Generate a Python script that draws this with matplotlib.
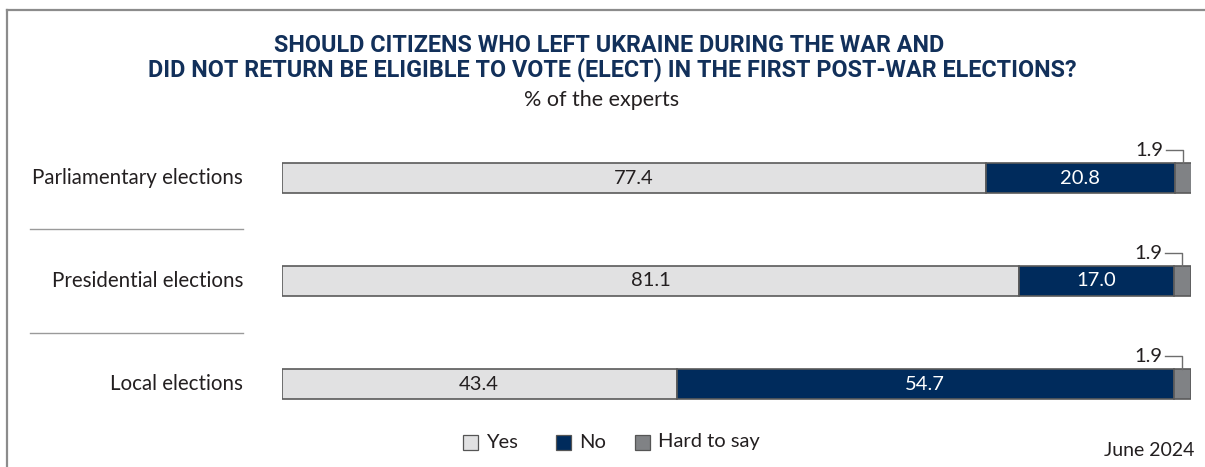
import matplotlib.pyplot as plt
from matplotlib.lines import Line2D
from matplotlib.patches import Rectangle

# survey shares, % of the experts
categories = ["Parliamentary elections", "Presidential elections", "Local elections"]
yes_vals = [77.4, 81.1, 43.4]
no_vals = [20.8, 17.0, 54.7]
hard_vals = [1.9, 1.9, 1.9]
legend_labels = ["Yes", "No", "Hard to say"]

NAVY = "#002b5c"
LIGHT = "#e1e1e2"
GREY = "#808285"
EDGE = "#5a5a5a"
TEXT = "#231f20"

W, H = 1205, 467
fig = plt.figure(figsize=(W / 100, H / 100), dpi=100)
fig.patch.set_facecolor("white")

FONT = ["Lato", "DejaVu Sans"]
TITLE_FONT = ["Roboto", "DejaVu Sans"]


def fx(px):
    return px / W


def fy(py):
    return 1 - py / H


# frame lines along top and left
fig.add_artist(Line2D([fx(7), fx(1205)], [fy(9.5), fy(9.5)], color="#8c8c8c", lw=1.6))
fig.add_artist(Line2D([fx(7.5), fx(7.5)], [fy(9.5), fy(467)], color="#8c8c8c", lw=1.6))

# title block
fig.text(fx(609), fy(46), "SHOULD CITIZENS WHO LEFT UKRAINE DURING THE WAR AND",
         ha="center", va="center", fontsize=16.8, fontweight="bold", color="#12305a",
         family=TITLE_FONT)
fig.text(fx(612), fy(70), "DID NOT RETURN BE ELIGIBLE TO VOTE (ELECT) IN THE FIRST POST-WAR ELECTIONS?",
         ha="center", va="center", fontsize=16.8, fontweight="bold", color="#12305a",
         family=TITLE_FONT)
fig.text(fx(602), fy(100), "% of the experts", ha="center", va="center",
         fontsize=15.5, color=TEXT, family=FONT)

# bar axes: x spans 0..100 %
bar_left, bar_right = 282, 1191
top_px, bot_px = 126.5, 435.5
ax = fig.add_axes([fx(bar_left), fy(bot_px), fx(bar_right - bar_left), (bot_px - top_px) / H])
ax.set_xlim(0, 100)
ax.set_ylim(2.5, -0.5)
ax.axis("off")

ys = list(range(len(categories)))
bh = 30 / 103
ax.barh(ys, yes_vals, height=bh, color=LIGHT, edgecolor=EDGE, lw=1.2)
ax.barh(ys, no_vals, left=yes_vals, height=bh, color=NAVY, edgecolor=EDGE, lw=1.2)
lefts_hard = [a + b for a, b in zip(yes_vals, no_vals)]
ax.barh(ys, hard_vals, left=lefts_hard, height=bh, color=GREY, edgecolor=EDGE, lw=1.2)

for i, cat in enumerate(categories):
    ax.text(yes_vals[i] / 2, i, f"{yes_vals[i]:.1f}", ha="center", va="center",
            fontsize=14.5, color=TEXT, family=FONT)
    ax.text(yes_vals[i] + no_vals[i] / 2, i, f"{no_vals[i]:.1f}", ha="center", va="center",
            fontsize=14.5, color="white", family=FONT)
    # leader line for the small segment
    xc = lefts_hard[i] + hard_vals[i] / 2
    y_lab = i - 0.27
    ax.plot([xc - 1.9, xc, xc], [y_lab, y_lab, i - bh / 2], color="#6d6d6d", lw=1,
            clip_on=False)
    ax.text(xc - 2.2, y_lab, f"{hard_vals[i]:.1f}", ha="right", va="center",
            fontsize=14.5, color=TEXT, family=FONT)
    # category label
    fig.text(fx(243), fy(178 + 103 * i), cat, ha="right", va="center",
             fontsize=14.8, color=TEXT, family=FONT)

# separators between categories
for sep in [229.5, 332.5]:
    fig.add_artist(Line2D([fx(30), fx(243)], [fy(sep), fy(sep)], color="#9a9a9a", lw=1))

# legend
legend_colors = [LIGHT, NAVY, GREY]
legend_x = [463, 556, 635]
for lx, lab, col in zip(legend_x, legend_labels, legend_colors):
    fig.add_artist(Rectangle((fx(lx), fy(450)), fx(15), 15 / H, facecolor=col,
                             edgecolor="#555555", lw=0.9))
    fig.text(fx(lx + 23), fy(442), lab, ha="left", va="center", fontsize=14.5,
             color=TEXT, family=FONT)

fig.text(fx(1194), fy(450), "June 2024", ha="right", va="center", fontsize=14,
         color=TEXT, family=FONT)

fig.savefig("out.png", dpi=100)
